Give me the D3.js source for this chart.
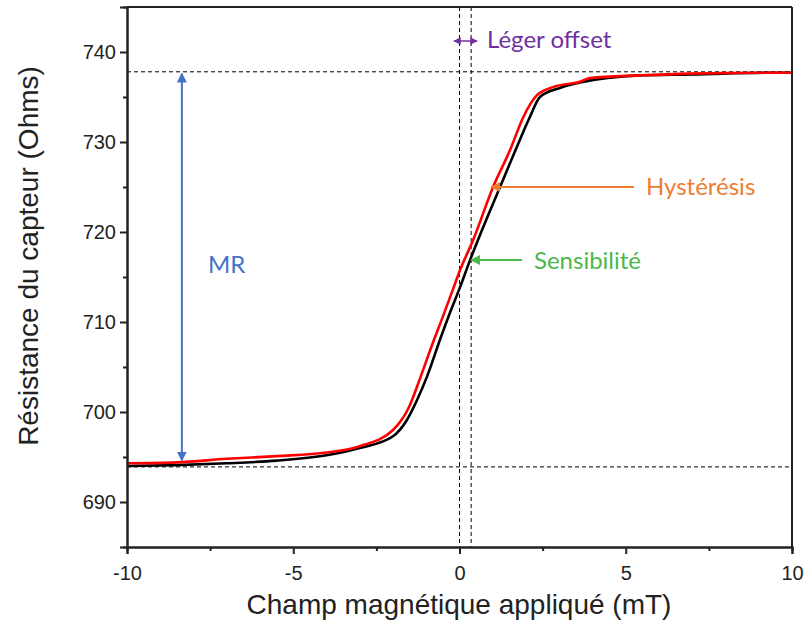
<!DOCTYPE html>
<html><head><meta charset="utf-8">
<script src="https://cdn.jsdelivr.net/npm/d3@7"></script>
<style>body{margin:0;background:#fff}</style>
</head><body>
<svg id="c" width="807" height="634"></svg>
<script>
// Data
const redX = [-10,-8.5,-7,-5.5,-4,-3,-2,-1.5,-1.2,-0.8,-0.5,-0.2,0.02,0.41,1.01,1.52,1.91,2.33,2.81,3.62,3.92,5.43,6.93,9.43,10];
const redY = [694.3,694.4,694.8,695.1,695.5,696.2,698.0,700.7,703.6,707.7,710.6,713.6,715.8,719.1,725.0,729.1,732.7,735.2,736.1,736.7,737.1,737.4,737.6,737.7,737.7];
const blackX = [-10,-8.5,-7,-5.5,-4,-3,-2,-1.6,-1.28,-0.98,-0.59,-0.29,0.02,0.32,0.62,1.22,1.73,2.12,2.42,3.02,3.62,5.43,7,9.43,10];
const blackY = [694.0,694.1,694.3,694.6,695.2,696.0,697.3,699.0,701.3,703.9,708.0,711.0,713.9,716.9,719.7,725.0,729.5,732.8,735.0,736.0,736.6,737.4,737.5,737.7,737.7];
const xTicks = [-10,-5,0,5,10];
const yTicks = [690,700,710,720,730,740];
const hDash = [737.8,693.9];
const vDash = [0,0.35];

const svg = d3.select("#c");
const x = d3.scaleLinear().domain([-10,10]).range([127,792]);
const y = d3.scaleLinear().domain([685,745]).range([547,7]);

// dashed guides
svg.selectAll(".hd").data(hDash).join("line")
  .attr("x1",x(-10)).attr("x2",x(10)).attr("y1",d=>y(d)).attr("y2",d=>y(d))
  .attr("stroke","#000").attr("stroke-width",1).attr("stroke-dasharray","4,3");
svg.selectAll(".vd").data(vDash).join("line")
  .attr("x1",d=>x(d)).attr("x2",d=>x(d)).attr("y1",y(745)).attr("y2",y(685))
  .attr("stroke","#000").attr("stroke-width",1).attr("stroke-dasharray","4,3");

const line = d3.line().x(d=>x(d[0])).y(d=>y(d[1])).curve(d3.curveMonotoneX);
svg.append("path").datum(blackX.map((v,i)=>[v,blackY[i]]))
  .attr("d",line).attr("fill","none").attr("stroke","#000").attr("stroke-width",2.6);
svg.append("path").datum(redX.map((v,i)=>[v,redY[i]]))
  .attr("d",line).attr("fill","none").attr("stroke","#ff0000").attr("stroke-width",2.6);

// axes
const fmt = d => String(d);
const xa = svg.append("g").attr("transform",`translate(0,${y(685)})`)
  .call(d3.axisBottom(x).tickValues(xTicks).tickSize(7).tickPadding(12).tickFormat(fmt));
const xm = svg.append("g").attr("transform",`translate(0,${y(685)})`)
  .call(d3.axisBottom(x).tickValues([-7.5,-2.5,2.5,7.5]).tickSize(4).tickFormat(""));
const ya = svg.append("g").attr("transform",`translate(${x(-10)},0)`)
  .call(d3.axisLeft(y).tickValues(yTicks).tickSize(7).tickPadding(4).tickFormat(fmt));
const ym = svg.append("g").attr("transform",`translate(${x(-10)},0)`)
  .call(d3.axisLeft(y).tickValues([695,705,715,725,735]).tickSize(4).tickFormat(""));
[xa,xm,ya,ym].forEach(g=>{
  g.select(".domain").attr("stroke","#222").attr("stroke-width",2);
  g.selectAll(".tick line").attr("stroke","#222").attr("stroke-width",2);
  g.selectAll("text").attr("font-family","Liberation Sans, Arial, sans-serif").attr("font-size",20).attr("fill","#222");
});
// top & right frame
svg.append("line").attr("x1",x(-10)).attr("x2",x(10)).attr("y1",y(745)).attr("y2",y(745)).attr("stroke","#222").attr("stroke-width",2);
svg.append("line").attr("x1",x(10)).attr("x2",x(10)).attr("y1",y(745)).attr("y2",y(685)).attr("stroke","#222").attr("stroke-width",2);

// titles
svg.append("text").attr("x",459).attr("y",614).attr("text-anchor","middle")
  .attr("font-family","Liberation Sans, Arial, sans-serif").attr("font-size",28).attr("fill","#222")
  .text("Champ magnétique appliqué (mT)");
svg.append("text").attr("transform","translate(38,256) rotate(-90)").attr("text-anchor","middle")
  .attr("font-family","Liberation Sans, Arial, sans-serif").attr("font-size",28).attr("fill","#222")
  .text("Résistance du capteur (Ohms)");

// annotations
const defs = svg.append("defs");
function marker(id,color){
  defs.append("marker").attr("id",id).attr("viewBox","0 0 10 10").attr("refX",9).attr("refY",5)
    .attr("markerWidth",5).attr("markerHeight",5).attr("orient","auto-start-reverse")
    .append("path").attr("d","M0,0L10,5L0,10z").attr("fill",color);
}
marker("mb","#4472C4"); marker("mo","#ED7D31"); marker("mg","#4CB84C"); marker("mp","#7030A0");
const aFont = "Lato, 'Open Sans', sans-serif";
// MR
svg.append("line").attr("x1",x(-8.35)).attr("x2",x(-8.35)).attr("y1",y(737.6)).attr("y2",y(694.6))
  .attr("stroke","#4472C4").attr("stroke-width",2).attr("marker-start","url(#mb)").attr("marker-end","url(#mb)");
svg.append("text").attr("x",208).attr("y",273).attr("font-family",aFont).attr("font-size",24).attr("fill","#4472C4").text("MR");
// Léger offset
svg.append("line").attr("x1",454).attr("x2",477).attr("y1",41).attr("y2",41)
  .attr("stroke","#7030A0").attr("stroke-width",1.5).attr("marker-start","url(#mp)").attr("marker-end","url(#mp)");
svg.append("text").attr("x",487).attr("y",48).attr("font-family",aFont).attr("font-size",24).attr("fill","#7030A0").text("Léger offset");
// Hystérésis
svg.append("line").attr("x1",634).attr("x2",491).attr("y1",187).attr("y2",187)
  .attr("stroke","#ED7D31").attr("stroke-width",2).attr("marker-end","url(#mo)");
svg.append("text").attr("x",646).attr("y",195).attr("font-family",aFont).attr("font-size",24).attr("fill","#ED7D31").text("Hystérésis");
// Sensibilité
svg.append("line").attr("x1",522).attr("x2",471).attr("y1",260).attr("y2",260)
  .attr("stroke","#4CB84C").attr("stroke-width",2).attr("marker-end","url(#mg)");
svg.append("text").attr("x",534).attr("y",269).attr("font-family",aFont).attr("font-size",24).attr("fill","#4CB84C").text("Sensibilité");
</script>
</body></html>
